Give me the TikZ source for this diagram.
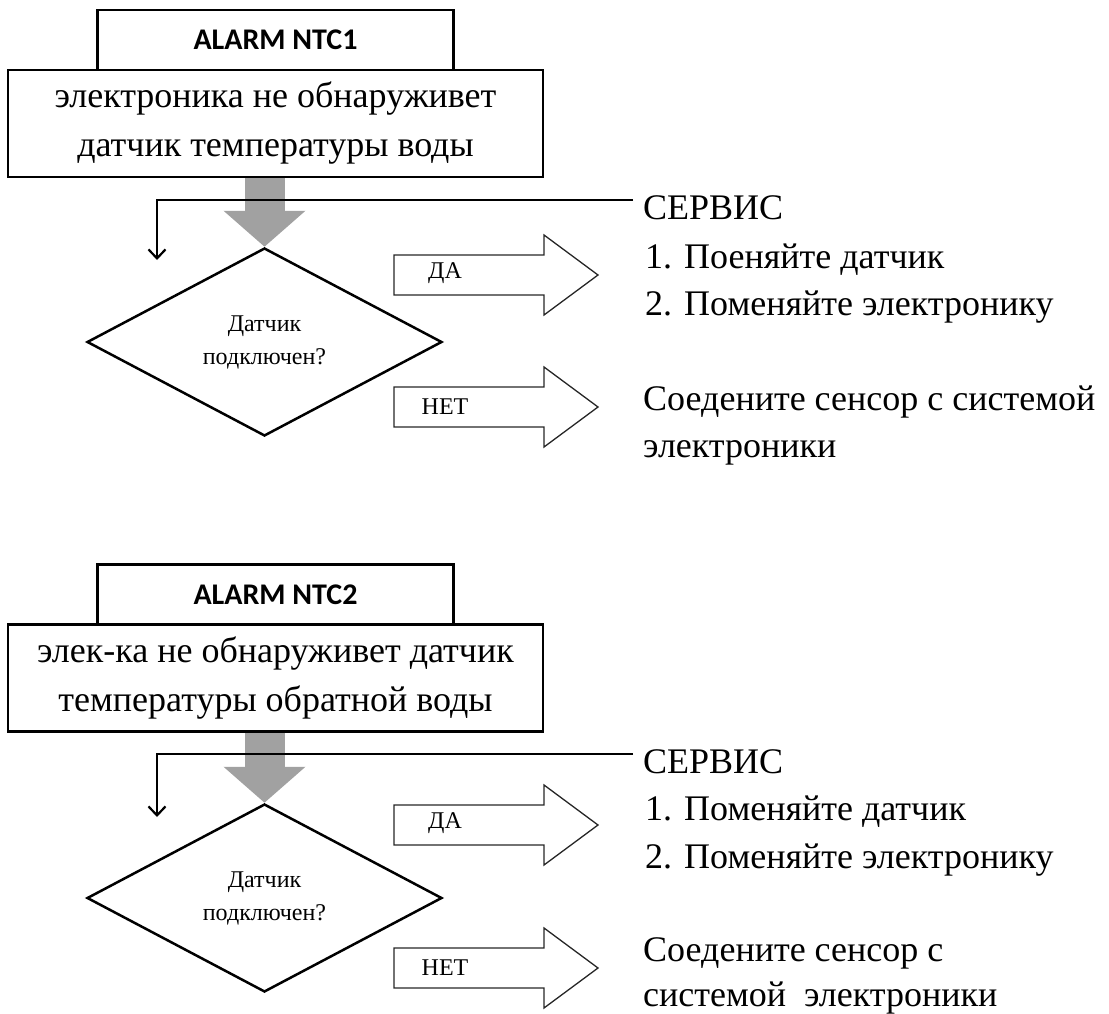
\documentclass[tikz,border=0pt]{standalone}
\usepackage{fontspec}
\setmainfont{Liberation Serif}
\newfontfamily\alarmfont{Carlito}
\usetikzlibrary{positioning,shapes.geometric,arrows.meta}

\tikzset{blockarrow/.pic={\draw[line width=1.3pt, black!85] (0,-20) -- (150,-20) -- (150,-40) -- (204,0) -- (150,40) -- (150,20) -- (0,20) -- cycle;}}

\begin{document}
\begin{tikzpicture}[x=1pt, y=-1pt, line join=miter,
    title/.style = {draw, line width=2.5pt, minimum width=356pt, minimum height=60pt, font=\alarmfont\bfseries\fontsize{30}{34}\selectfont},
    errbox/.style = {draw, line width=2.5pt, minimum width=535pt, minimum height=107pt, align=center, font=\fontsize{36}{49}\selectfont},
    decision/.style = {draw, diamond, line width=2.5pt, minimum width=355pt, minimum height=188pt, inner sep=0pt, align=center, font=\fontsize{24}{33}\selectfont},
    answer/.style = {inner sep=0pt, font=\fontsize{24}{28}\selectfont},
    note/.style = {anchor=base west, inner sep=0pt, font=\fontsize{36}{44}\selectfont},
    service/.style = {note, inner xsep=10pt},
    flow/.style = {line width=40pt, draw=black!37, -{Triangle[width=80pt, length=36pt]}},
    back/.style = {line width=2.2pt, -{Straight Barb[length=9pt, width=17pt]}}]
    \useasboundingbox (0,0) rectangle (1109,1014);

    \node[errbox] (err1) at (275.5,123.5) {электроника не обнаруживет\\датчик температуры воды};
    \node[title] (alarm1) [above=-2.5pt of err1] {ALARM NTC1};
    \node[decision] (q1) at (264.5,342) {Датчик\\подключен?};
    \draw[flow] (err1.south -| q1.north) -- (q1.north);

    \node[service] (serv1) at (633,219) {СЕРВИС};
    \node[note] (fix1) at (645,268) {1. Поеняйте датчик};
    \node[note] (fix2) at (645,315) {2. Поменяйте электронику};
    \node[note] (con1) at (643,410) {Соедените сенсор с системой};
    \node[note] (con1b) at (643,457) {электроники};
    \coordinate (ret1) at (157,260);
    \draw[back] ([yshift=-5pt]serv1.north west) -| (ret1);

    \pic at (394,275) {blockarrow};
    \pic at (394,407) {blockarrow};
    \node[answer] (yes1) at (445,273) {ДА};
    \node[answer] (no1) at (445,407) {НЕТ};

    \node[errbox] (err2) at (275.5,678) {элек-ка не обнаруживет датчик\\температуры обратной воды};
    \node[title] (alarm2) [above=-2.5pt of err2] {ALARM NTC2};
    \node[decision] (q2) at (264.5,898) {Датчик\\подключен?};
    \draw[flow] (err2.south -| q2.north) -- (q2.north);

    \node[service] (serv2) at (633,773) {СЕРВИС};
    \node[note] (fix3) at (645,820) {1. Поменяйте датчик};
    \node[note] (fix4) at (645,868) {2. Поменяйте электронику};
    \node[note] (con2) at (643,961) {Соедените сенсор с};
    \node[note] (con2b) at (643,1006) {системой\ \ электроники};
    \coordinate (ret2) at (157,817);
    \draw[back] ([yshift=-5pt]serv2.north west) -| (ret2);

    \pic at (394,825) {blockarrow};
    \pic at (394,968) {blockarrow};
    \node[answer] (yes2) at (445,823) {ДА};
    \node[answer] (no2) at (445,968) {НЕТ};
\end{tikzpicture}
\end{document}
